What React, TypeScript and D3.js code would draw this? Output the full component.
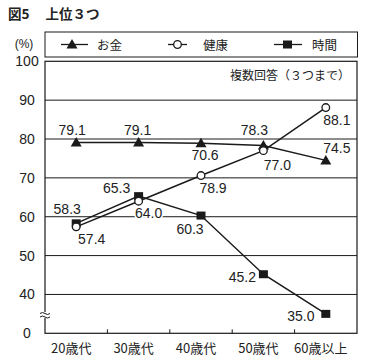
import React from 'react';
import * as d3 from 'd3';

// categories and series
const categories = ['20歳代', '30歳代', '40歳代', '50歳代', '60歳以上'];
const okane = [79.1, 79.1, 78.9, 78.3, 74.5];
const kenko = [57.4, 64.0, 70.6, 77.0, 88.1];
const jikan = [58.3, 65.3, 60.3, 45.2, 35.0];

// printed data labels (as they appear in the figure)
const okaneLabels = ['79.1', '79.1', '70.6', '78.3', '74.5'];
const kenkoLabels = ['57.4', '64.0', '78.9', '77.0', '88.1'];
const jikanLabels = ['58.3', '65.3', '60.3', '45.2', '35.0'];

// y ticks: values 40..100, the bottom (30) is shown as 0 with a break
const yTicks = [30, 40, 50, 60, 70, 80, 90, 100];
const yTickLabels = ['0', '40', '50', '60', '70', '80', '90', '100'];
const gridValues = [40, 50, 60, 70, 80, 90];

// label offsets from each point
const okaneOff = [[-4, -12.5], [-1, -12.5], [4, 12], [-9, -15.5], [11, -12]];
const kenkoOff = [[15.5, 12], [10, 12], [12, 12.5], [14, 14], [11, 12.5]];
const jikanOff = [[-9, -14], [-22, -8], [-11, 13.5], [-21, 3], [-25, 2]];

const W = 374;
const H = 363;
const left = 45;
const right = 357;
const top = 61.3;
const bottom = 333.3;

const jp = '"Noto Sans CJK JP", sans-serif';
const num = '"Liberation Sans", Arial, sans-serif';

export default function App() {
  const x = d3.scaleBand<string>().domain(categories).range([left, right]).padding(0);
  const y = d3.scaleLinear().domain([30, 100]).range([bottom, top]);
  const cx = (i: number) => (x(categories[i]) as number) + x.bandwidth() / 2;

  const line = (vals: number[]) =>
    d3.line<number>().x((_, i) => cx(i)).y(d => y(d))(vals) as string;

  const ink = '#1a1a1a';

  const tri = (px: number, py: number, key: string) => (
    <path key={key} d={`M${px},${py - 5.5}L${px + 5.5},${py + 4}L${px - 5.5},${py + 4}Z`} fill={ink} />
  );
  const circ = (px: number, py: number, key: string) => (
    <circle key={key} cx={px} cy={py} r={3.8} fill="#fff" stroke={ink} strokeWidth={1.3} />
  );
  const sq = (px: number, py: number, key: string) => (
    <rect key={key} x={px - 4.5} y={py - 4} width={9} height={8} fill={ink} />
  );

  const labels = (vals: number[], texts: string[], offs: number[][], key: string) =>
    vals.map((v, i) => (
      <text
        key={key + i}
        x={cx(i) + offs[i][0]}
        y={y(v) + offs[i][1]}
        textAnchor="middle"
        dominantBaseline="central"
        fontFamily={num}
        fontSize={14}
        fill="#222"
        stroke="#fff"
        strokeWidth={3}
        paintOrder="stroke"
      >
        {texts[i]}
      </text>
    ));

  const bounds = categories.slice(1).map(c => x(c) as number);

  return (
    <svg width={W} height={H} style={{ position: 'absolute', left: 0, top: 0, background: '#fff' }}>
      {/* title */}
      <text x={8} y={19} fontFamily={jp} fontSize={13.5} fontWeight="bold" fill="#222">
        図5<tspan dx={16}>上位３つ</tspan>
      </text>

      {/* legend */}
      <rect x={45} y={32} width={312.5} height={25} fill="#fff" stroke={ink} strokeWidth={1} />
      <line x1={61} x2={88} y1={44.5} y2={44.5} stroke={ink} strokeWidth={1.3} />
      {tri(72, 44.5, 'lt')}
      <text x={97} y={44.5} dominantBaseline="central" fontFamily={jp} fontSize={12.5} fill="#222">お金</text>
      <line x1={168} x2={187} y1={44.5} y2={44.5} stroke={ink} strokeWidth={1.3} />
      {circ(177.5, 44.5, 'lc')}
      <text x={203} y={44.5} dominantBaseline="central" fontFamily={jp} fontSize={12.5} fill="#222">健康</text>
      <line x1={274} x2={302} y1={44.5} y2={44.5} stroke={ink} strokeWidth={1.3} />
      {sq(287.5, 44.5, 'ls')}
      <text x={312} y={44.5} dominantBaseline="central" fontFamily={jp} fontSize={12.5} fill="#222">時間</text>

      <text x={24} y={44} textAnchor="middle" dominantBaseline="central" fontFamily={num} fontSize={12} fill="#222">(%)</text>

      {/* grid */}
      {gridValues.map(g => (
        <line key={g} x1={left} x2={right} y1={y(g)} y2={y(g)} stroke={ink} strokeWidth={1} />
      ))}
      <rect x={left} y={top} width={right - left} height={bottom - top} fill="none" stroke={ink} strokeWidth={1.2} />
      {bounds.map((b, i) => (
        <line key={i} x1={b} x2={b} y1={bottom} y2={bottom - 4} stroke={ink} strokeWidth={1} />
      ))}

      {/* y tick labels */}
      {yTicks.map((t, i) => (
        <text key={t} x={27} y={y(t)} textAnchor="middle" dominantBaseline="central" fontFamily={num} fontSize={14} fill="#222">
          {yTickLabels[i]}
        </text>
      ))}

      {/* axis break */}
      <rect x={43} y={312} width={4} height={6} fill="#fff" />
      <path d="M40,313.5 q2.5,-2 5,0 t5,0" fill="none" stroke={ink} strokeWidth={1} />
      <path d="M40,317 q2.5,-2 5,0 t5,0" fill="none" stroke={ink} strokeWidth={1} />

      {/* annotation */}
      <text x={350} y={74} textAnchor="end" dominantBaseline="central" fontFamily={jp} fontSize={12} fill="#222">
        複数回答（３つまで）
      </text>

      {/* series lines */}
      <path d={line(okane)} fill="none" stroke={ink} strokeWidth={1.5} />
      <path d={line(jikan)} fill="none" stroke={ink} strokeWidth={1.5} />
      <path d={line(kenko)} fill="none" stroke={ink} strokeWidth={1.5} />

      {/* labels */}
      {labels(okane, okaneLabels, okaneOff, 'o')}
      {labels(kenko, kenkoLabels, kenkoOff, 'k')}
      {labels(jikan, jikanLabels, jikanOff, 'j')}

      {/* markers */}
      {okane.map((v, i) => tri(cx(i), y(v), 'o' + i))}
      {jikan.map((v, i) => sq(cx(i), y(v), 'j' + i))}
      {kenko.map((v, i) => circ(cx(i), y(v), 'k' + i))}

      {/* x labels */}
      {categories.map((c, i) => (
        <text key={c} x={cx(i) - 5} y={347} textAnchor="middle" dominantBaseline="central" fontFamily={jp} fontSize={13} fill="#222">
          {c}
        </text>
      ))}
    </svg>
  );
}
